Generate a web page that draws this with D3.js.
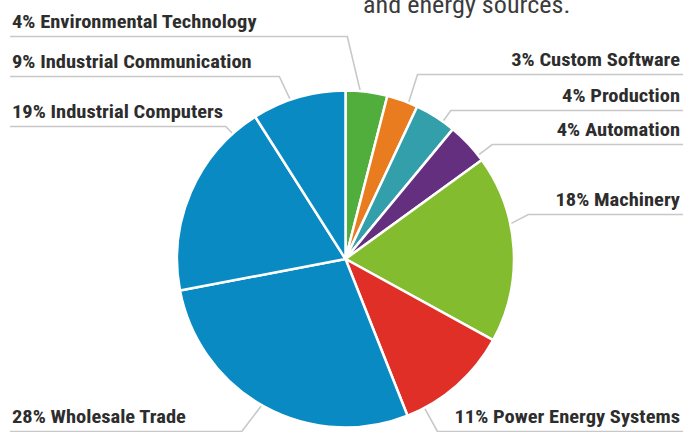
<!DOCTYPE html>
<html>
<head>
<meta charset="utf-8">
<script src="https://cdnjs.cloudflare.com/ajax/libs/d3/7.8.5/d3.min.js"></script>
<style>
  html, body { margin: 0; padding: 0; background: #fff; }
  svg { display: block; }
  .lbl { font-family: "Roboto Condensed", Roboto, sans-serif; font-weight: 700; font-size: 19px; fill: #2d2d2d; }
  .intro { font-family: "Roboto Condensed", Roboto, sans-serif; font-weight: 400; font-size: 24px; fill: #3c3c3c; }
</style>
</head>
<body>
<svg id="chart" width="683" height="432"></svg>
<script>
// data, clockwise from 12 o'clock
var categories = ["Environmental Technology", "Custom Software", "Production", "Automation",
                  "Machinery", "Power Energy Systems", "Wholesale Trade",
                  "Industrial Computers", "Industrial Communication"];
var shares = [4, 3, 4, 4, 18, 11, 28, 19, 9];
var colors = ["#52ae3c", "#e87c1e", "#339faa", "#652f80", "#84bc30",
              "#e02f26", "#0a8ac2", "#0a8ac2", "#0a8ac2"];

// label layout: baseline y, where the leader touches the slice (0..1 across it), elbow offset
var labelSide = ["left", "right", "right", "right", "right", "right", "left", "left", "left"];
var labelY = [28, 66, 102, 136, 206, 423, 423, 118, 68];
var anchorT = [0.35, 0.7, 0.7, 0.86, 0.37, 0.84, 0.51, 0.86, 0.41];
var elbowDx = [-13, 9, 8, 14, 18, 13, -20, -7, -11];

var svg = d3.select("#chart");
var W = 683, H = 432;
var cx = 345.5, cy = 259, r = 168.5;
var widen = 1.08;

var pie = d3.pie().sort(null).value(function(d) { return d; });
var arcs = pie(shares);
var arc = d3.arc().innerRadius(0).outerRadius(r);

// intro text, last line of a paragraph above the chart
svg.append("text")
    .attr("class", "intro")
    .attr("transform", "translate(363,13) scale(1.09,1)")
    .text("and energy sources.");

// leader lines
var leaders = svg.append("g");
arcs.forEach(function(a, i) {
    var ang = a.startAngle + (a.endAngle - a.startAngle) * anchorT[i];
    var ax = cx + r * Math.sin(ang);
    var ay = cy - r * Math.cos(ang);
    var ly = labelY[i] + 8.5;
    var ex = ax + elbowDx[i];
    var edge = labelSide[i] == "left" ? 10 : W;
    leaders.append("polyline")
        .attr("points", [[ax, ay], [ex, ly], [edge, ly]].map(function(p) { return p.join(","); }).join(" "))
        .attr("fill", "none")
        .attr("stroke", "#c8c8c8")
        .attr("stroke-width", 1.6);
});

// slices
svg.append("g")
    .attr("transform", "translate(" + cx + "," + cy + ")")
    .selectAll("path")
    .data(arcs)
    .enter().append("path")
    .attr("d", arc)
    .attr("fill", function(d, i) { return colors[i]; })
    .attr("stroke", "#fff")
    .attr("stroke-width", 2.5)
    .attr("stroke-linejoin", "round");

// labels
svg.append("g").selectAll("text")
    .data(arcs)
    .enter().append("text")
    .attr("class", "lbl")
    .attr("text-anchor", function(d, i) { return labelSide[i] == "left" ? "start" : "end"; })
    .attr("transform", function(d, i) {
        var x = labelSide[i] == "left" ? 12 : 680;
        return "translate(" + x + "," + labelY[i] + ") scale(" + widen + ",1)";
    })
    .text(function(d, i) { return shares[i] + "% " + categories[i]; });
</script>
</body>
</html>
